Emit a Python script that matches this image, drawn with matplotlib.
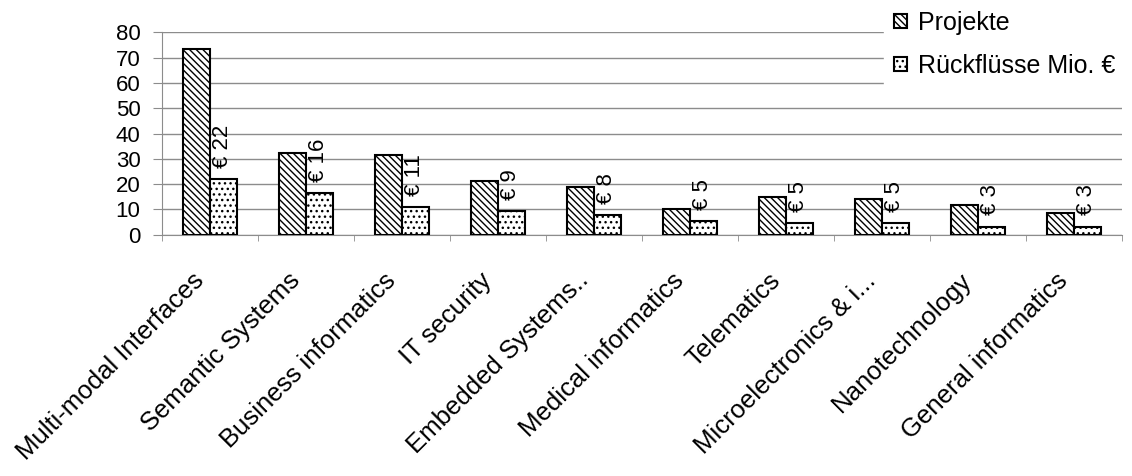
import numpy as np
import matplotlib
matplotlib.use("Agg")
import matplotlib.pyplot as plt
import matplotlib.transforms as mtransforms

plt.rcParams["font.family"] = ["Liberation Sans", "DejaVu Sans"]
plt.rcParams["hatch.linewidth"] = 1.0

categories = ["Multi-modal Interfaces", "Semantic Systems", "Business informatics",
              "IT security", "Embedded Systems..", "Medical informatics", "Telematics",
              "Microelectronics & i...", "Nanotechnology", "General informatics"]
projekte = [73.3, 32.3, 31.4, 21.3, 19.0, 10.2, 14.9, 14.1, 11.7, 8.7]
rueckfluesse = [22.0, 16.6, 11.0, 9.4, 7.9, 5.5, 4.7, 4.7, 3.2, 3.2]
rueck_labels = ["€ 22", "€ 16", "€ 11", "€ 9", "€ 8", "€ 5", "€ 5", "€ 5", "€ 3", "€ 3"]

GRAY = "#8c8c8c"

fig = plt.figure(figsize=(11.32, 4.76), dpi=100)
ax = fig.add_axes([162 / 1132, 1 - 234.7 / 476, 960 / 1132, (234.7 - 32.4) / 476])

x = np.arange(len(categories))
w = 0.28
b1 = ax.bar(x - w / 2, projekte, w, color="white", edgecolor="black", hatch="\\" * 5,
            linewidth=1.5, label="Projekte", zorder=3)
b2 = ax.bar(x + w / 2, rueckfluesse, w, color="white", edgecolor="black", hatch="...",
            linewidth=1.5, label="Rückflüsse Mio. €", zorder=3)

# value labels above the second series
for xi, v, lab in zip(x, rueckfluesse, rueck_labels):
    ax.annotate(lab, (xi + w / 2, v), xytext=(-1, 8), textcoords="offset points",
                rotation=90, ha="center", va="bottom", fontsize=16, zorder=4)

ax.set_xlim(-0.5, len(categories) - 0.5)
ax.set_ylim(0, 80)
ax.set_yticks(range(0, 81, 10))
ax.yaxis.grid(True, color=GRAY, linewidth=1, zorder=0)
ax.tick_params(axis="y", length=6.5, color=GRAY, labelsize=16, pad=9)

ax.set_xticks(x)
ax.set_xticklabels(categories, rotation=45, ha="right", rotation_mode="anchor", fontsize=18.5)
ax.tick_params(axis="x", which="major", length=0, pad=14)
ax.set_xticks(np.arange(-0.5, len(categories), 1), minor=True)
ax.tick_params(axis="x", which="minor", length=4, color=GRAY)
shift = mtransforms.ScaledTranslation(-18 / 100, -14 / 100, fig.dpi_scale_trans)
for lbl in ax.get_xticklabels():
    lbl.set_transform(lbl.get_transform() + shift)

for s in ["top", "right"]:
    ax.spines[s].set_visible(False)
ax.spines["bottom"].set_color(GRAY)
ax.spines["left"].set_color(GRAY)

leg = fig.legend(handles=[b1, b2], loc="upper left", bbox_to_anchor=(884 / 1132, 1 - 1 / 476),
                 fontsize=18, frameon=True, fancybox=False, edgecolor="white",
                 facecolor="white", framealpha=1, handlelength=0.5, handleheight=0.5,
                 handletextpad=0.45, labelspacing=0.75, borderaxespad=0.0, borderpad=0.4)

fig.savefig("out.png", dpi=100)
